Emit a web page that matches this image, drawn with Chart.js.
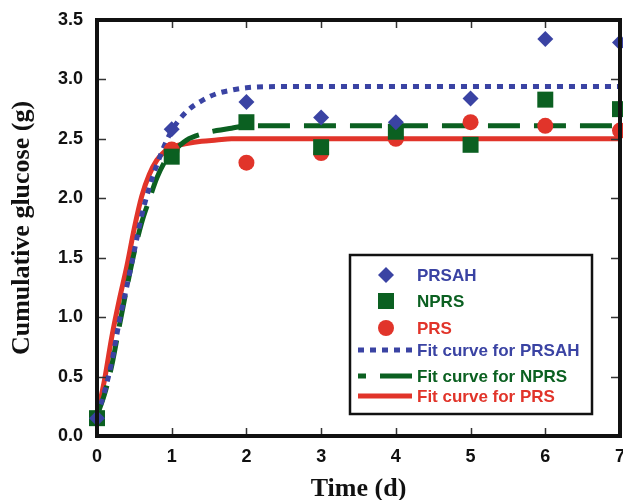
<!DOCTYPE html>
<html>
<head>
<meta charset="utf-8">
<title>Cumulative glucose</title>
<script src="https://cdn.jsdelivr.net/npm/chart.js@4.4.1/dist/chart.umd.min.js"></script>
<style>
  html, body { margin: 0; padding: 0; background: #fff; }
  #wrap { width: 623px; height: 500px; position: relative; }
</style>
</head>
<body>
<div id="wrap"><canvas id="glucoseChart"></canvas></div>
<script>
// measured points (days)
const days = [0, 1, 2, 3, 4, 5, 6, 7];
const prsah = [0.15, 2.58, 2.81, 2.68, 2.64, 2.84, 3.34, 3.31];
const nprs = [0.15, 2.35, 2.64, 2.43, 2.56, 2.45, 2.83, 2.75];
const prs = [0.15, 2.41, 2.30, 2.38, 2.50, 2.64, 2.61, 2.57];

// fitted curves
const fitX = [0, 0.1, 0.2, 0.3, 0.4, 0.5, 0.6, 0.7, 0.8, 0.9, 1.0, 1.2, 1.4, 1.6, 1.8, 2.0, 2.5, 3, 4, 5, 6, 7];
const fitPrsah = [0.17, 0.37, 0.63, 0.97, 1.26, 1.56, 1.86, 2.09, 2.28, 2.44, 2.57, 2.73, 2.82, 2.88, 2.91, 2.93, 2.94, 2.94, 2.94, 2.94, 2.94, 2.94];
const fitNprs = [0.17, 0.35, 0.60, 0.93, 1.25, 1.55, 1.80, 1.99, 2.17, 2.30, 2.38, 2.49, 2.54, 2.57, 2.59, 2.61, 2.61, 2.61, 2.61, 2.61, 2.61, 2.61];
const fitPrs = [0.17, 0.47, 0.84, 1.15, 1.43, 1.75, 2.02, 2.20, 2.32, 2.39, 2.43, 2.46, 2.48, 2.49, 2.50, 2.50, 2.50, 2.50, 2.50, 2.50, 2.50, 2.50];

const xTicks = [0, 1, 2, 3, 4, 5, 6, 7];
const yTicks = [0, 0.5, 1.0, 1.5, 2.0, 2.5, 3.0, 3.5];

const BLUE = '#3a43a3', GREEN = '#0b6021', RED = '#e1342a';
const SANS = '"Liberation Sans", Arial, sans-serif';
const SERIF = '"Liberation Serif", "Times New Roman", serif';

const toXY = (xs, ys) => xs.map((x, i) => ({ x, y: ys[i] }));

// frame + inward ticks on all four sides
const framePlugin = {
  id: 'frame',
  afterDatasetsDraw(chart) {
    const { ctx, chartArea: a, scales } = chart;
    ctx.save();
    ctx.strokeStyle = '#333';
    ctx.lineWidth = 1.5;
    ctx.beginPath();
    xTicks.slice(1, -1).forEach(v => {
      const px = Math.round(scales.x.getPixelForValue(v)) + 0.5;
      ctx.moveTo(px, a.bottom); ctx.lineTo(px, a.bottom - 8);
      ctx.moveTo(px, a.top); ctx.lineTo(px, a.top + 8);
    });
    yTicks.slice(1, -1).forEach(v => {
      const py = Math.round(scales.y.getPixelForValue(v)) + 0.5;
      ctx.moveTo(a.left, py); ctx.lineTo(a.left + 9, py);
      ctx.moveTo(a.right, py); ctx.lineTo(a.right - 9, py);
    });
    ctx.stroke();
    ctx.strokeStyle = '#111';
    ctx.lineWidth = 4;
    ctx.strokeRect(a.left, a.top, a.right - a.left, a.bottom - a.top);
    ctx.restore();
  }
};

// boxed legend inside the plot, drawn by hand to keep the line samples
const legendPlugin = {
  id: 'boxLegend',
  afterDraw(chart) {
    const ctx = chart.ctx;
    const rows = [275, 301, 328, 350, 376, 396];
    ctx.save();
    ctx.strokeStyle = '#111';
    ctx.lineWidth = 2.5;
    ctx.strokeRect(350, 255, 242, 159);
    ctx.font = 'bold 17px ' + SANS;
    ctx.textBaseline = 'middle';
    chart.data.datasets.forEach((ds, i) => {
      const y = rows[i];
      const col = ds.borderColor;
      if (ds.showLine) {
        ctx.strokeStyle = col;
        ctx.lineWidth = ds.borderWidth;
        ctx.setLineDash(ds.borderDash || []);
        ctx.lineDashOffset = ds.legendDashOffset || 0;
        ctx.beginPath();
        ctx.moveTo(358, y); ctx.lineTo(412, y);
        ctx.stroke();
        ctx.setLineDash([]);
      } else {
        ctx.fillStyle = col;
        const cx = 386, r = ds.pointRadius;
        ctx.beginPath();
        if (ds.pointStyle === 'rectRot') {
          ctx.moveTo(cx - r, y); ctx.lineTo(cx, y - r); ctx.lineTo(cx + r, y); ctx.lineTo(cx, y + r);
        } else if (ds.pointStyle === 'rect') {
          const s = r * Math.SQRT1_2;
          ctx.rect(cx - s, y - s, 2 * s, 2 * s);
        } else {
          ctx.arc(cx, y, r, 0, Math.PI * 2);
        }
        ctx.closePath();
        ctx.fill();
      }
      ctx.fillStyle = col;
      ctx.fillText(ds.label, 417, y + 1);
    });
    ctx.restore();
  }
};

const markerSet = (label, ys, color, style, radius, order) => ({
  label, data: toXY(days, ys), showLine: false,
  pointStyle: style, pointRadius: radius, pointHoverRadius: radius,
  backgroundColor: color, borderColor: color, pointBorderWidth: 0,
  clip: false, order
});

const fitSet = (label, ys, color, dash, order, dashOffset) => ({
  label, data: toXY(fitX, ys), showLine: true,
  borderColor: color, borderWidth: 5, borderDash: dash, borderCapStyle: 'butt',
  legendDashOffset: dashOffset,
  pointRadius: 0, cubicInterpolationMode: 'monotone', fill: false,
  clip: false, order
});

new Chart(document.getElementById('glucoseChart'), {
  type: 'scatter',
  data: {
    datasets: [
      markerSet('PRSAH', prsah, BLUE, 'rectRot', 8, 1),
      markerSet('NPRS', nprs, GREEN, 'rect', 11.3, 2),
      markerSet('PRS', prs, RED, 'circle', 8, 3),
      fitSet('Fit curve for PRSAH', fitPrsah, BLUE, [6, 6], 4, 0),
      fitSet('Fit curve for NPRS', fitNprs, GREEN, [32, 14], 5, 24),
      fitSet('Fit curve for PRS', fitPrs, RED, [], 6, 0)
    ]
  },
  options: {
    responsive: true,
    maintainAspectRatio: false,
    animation: false,
    layout: { autoPadding: false, padding: { top: 20, right: 3, left: 0, bottom: 0 } },
    plugins: { legend: { display: false }, tooltip: { enabled: false } },
    scales: {
      x: {
        type: 'linear', min: 0, max: 7,
        afterBuildTicks: s => { s.ticks = xTicks.map(v => ({ value: v })); },
        afterFit: s => { s.height = 64; s.paddingLeft = 0; s.paddingRight = 0; },
        grid: { display: false, drawTicks: false },
        border: { display: false },
        ticks: { padding: 10, color: '#111', font: { family: SANS, size: 18, weight: 'bold' } },
        title: { display: true, text: 'Time (d)', color: '#111', padding: { top: 0, bottom: -5 },
                 font: { family: SERIF, size: 26, weight: 'bold' } }
      },
      y: {
        type: 'linear', min: 0, max: 3.5,
        afterBuildTicks: s => { s.ticks = yTicks.map(v => ({ value: v })); },
        afterFit: s => { s.width = 97; s.paddingTop = 0; s.paddingBottom = 0; },
        grid: { display: false, drawTicks: false },
        border: { display: false },
        ticks: { padding: 14, color: '#111', font: { family: SANS, size: 18, weight: 'bold' },
                 callback: v => v.toFixed(1) },
        title: { display: true, text: 'Cumulative glucose (g)', color: '#111', padding: { top: 7, bottom: 7 },
                 font: { family: SERIF, size: 26, weight: 'bold' } }
      }
    }
  },
  plugins: [framePlugin, legendPlugin]
});
</script>
</body>
</html>
